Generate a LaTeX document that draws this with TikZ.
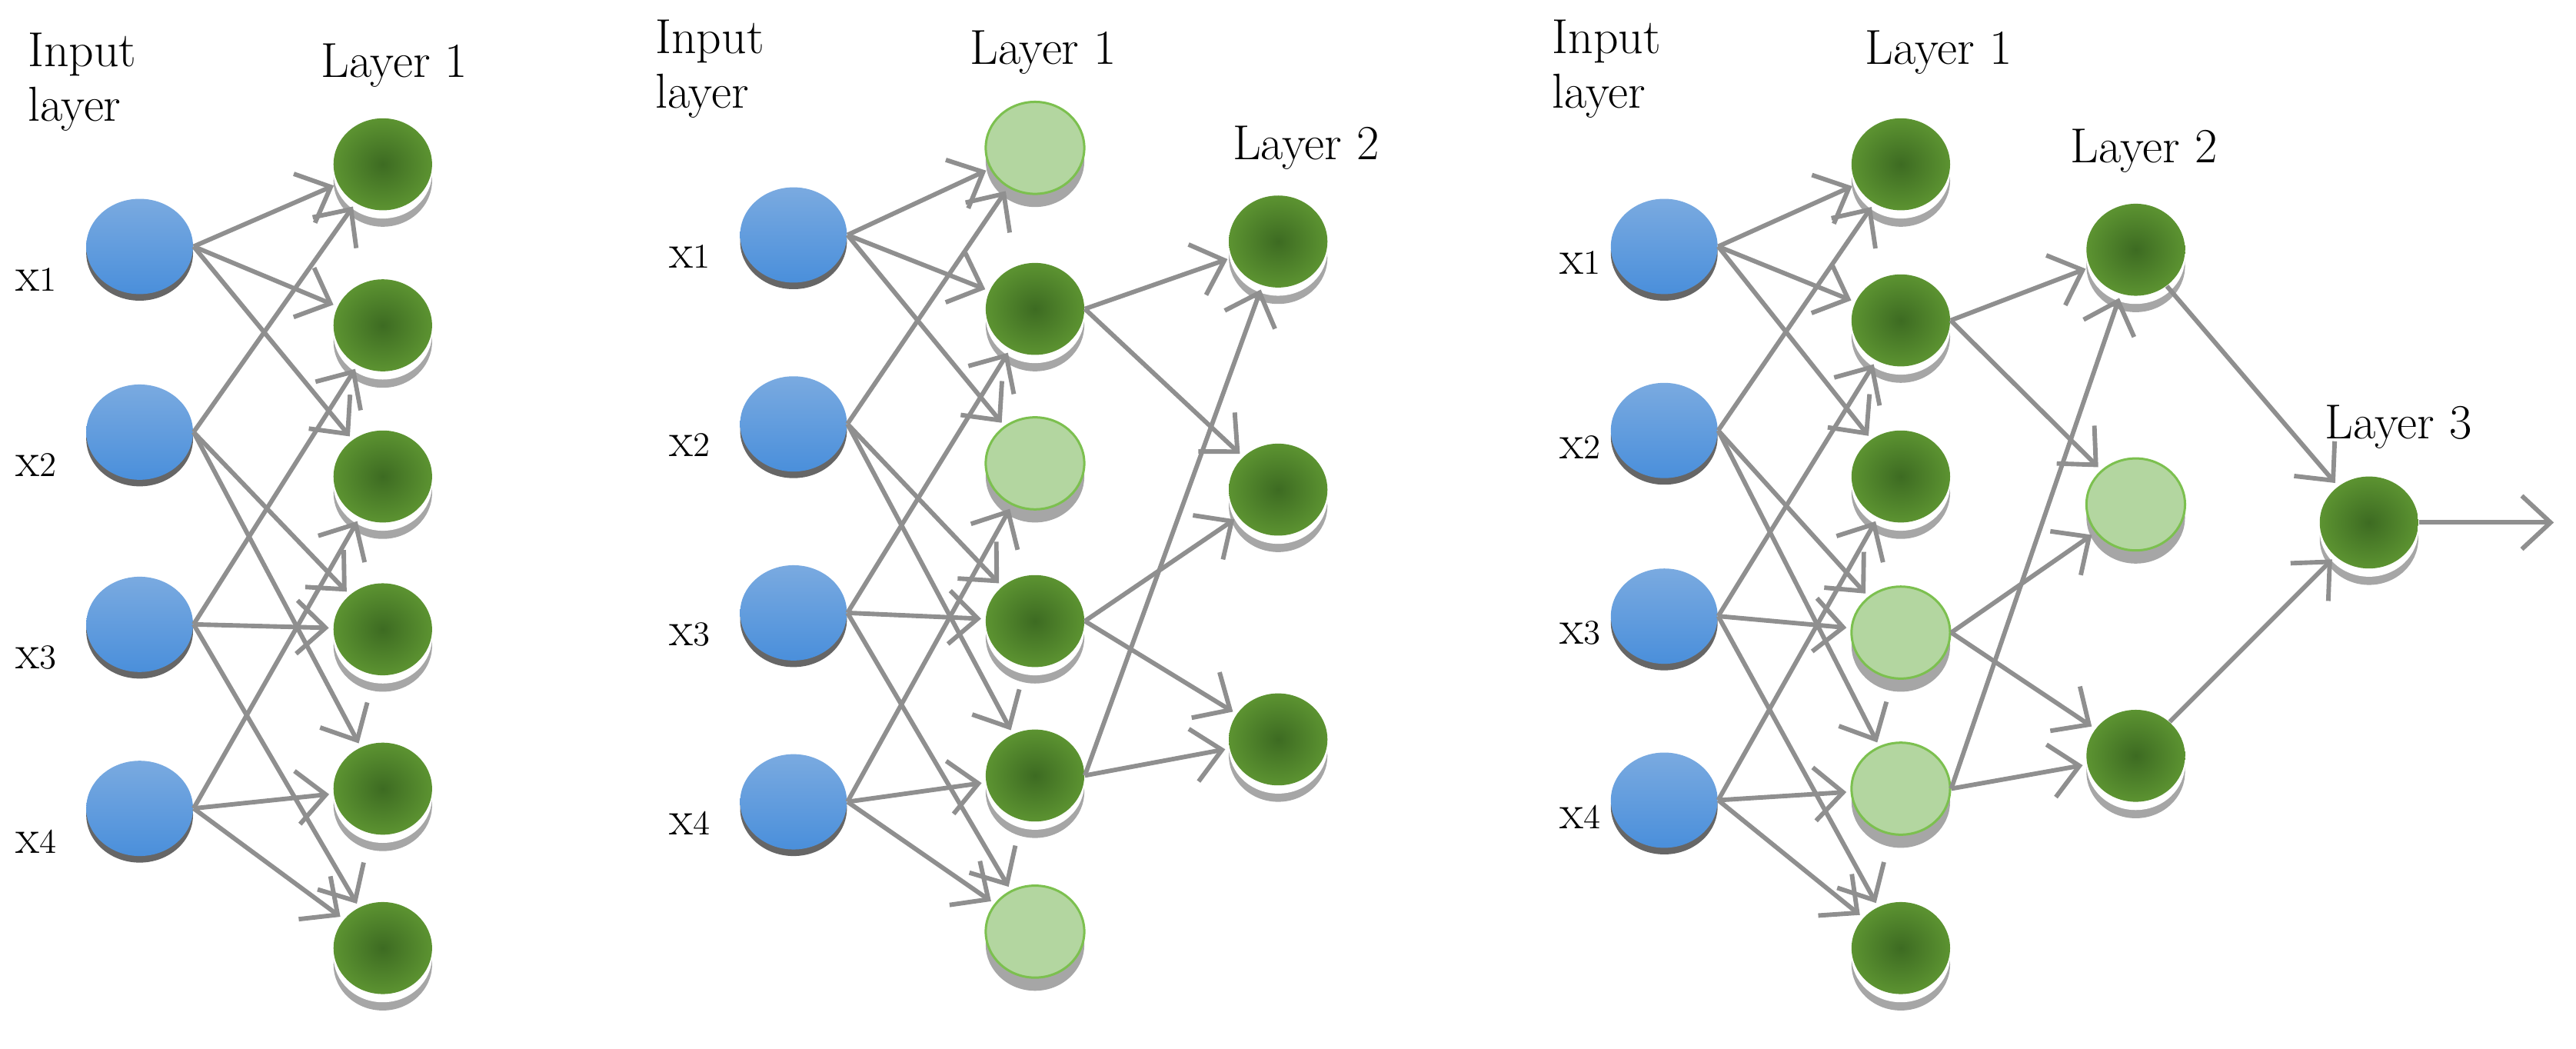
\documentclass[tikz,border=0pt]{standalone}
\usetikzlibrary{arrows.meta,shapes.geometric}
\definecolor{linkgray}{HTML}{8F8F8F}
\definecolor{bluetop}{HTML}{7AAAE0}
\definecolor{bluebot}{HTML}{4A8FDB}
\definecolor{greenin}{HTML}{3D6B22}
\definecolor{greenout}{HTML}{5C9331}
\definecolor{lightfill}{HTML}{B3D6A0}
\definecolor{lightrim}{HTML}{7CC04F}
\tikzset{
	inp/.style={ellipse,minimum width=13mm,minimum height=11.6mm,top color=bluetop,bottom color=bluebot,
		preaction={fill=black!60,transform canvas={yshift=-0.8mm}}},
	hid/.style={ellipse,minimum width=12mm,minimum height=11.2mm,shading=radial,inner color=greenin,outer color=greenout,
		preaction={fill=black!35,transform canvas={yshift=-2mm}},
		preaction={fill=white,transform canvas={yshift=-1mm}}},
	off/.style={ellipse,minimum width=12mm,minimum height=11.2mm,fill=lightfill,draw=lightrim,thick,
		preaction={fill=black!35,transform canvas={yshift=-1.6mm}}},
	link/.style={draw=linkgray,line width=0.55mm,-{Straight Barb[length=3.5mm,width=6.5mm]},shorten >=0.5mm},
	lab/.style={font=\fontsize{17}{19}\selectfont,inner sep=0pt},
}
\newcommand{\xlab}[1]{x{\fontsize{12}{14}\selectfont #1}}
\begin{document}
\begin{tikzpicture}[x=0.02cm,y=-0.02cm]
	\useasboundingbox (0,0) rectangle (1568,638);
	% panel a
	\node [lab,align=left] at (50,50) {Input\\layer};
	\node [lab] at (240,40) {Layer 1};
	\foreach \i/\y in {1/150,2/263,3/380,4/492} {
		\node [inp] (ai\i) at (85,\y) {};
		\node [lab] at (22,\y+20) {\xlab{\i}};
	}
	\foreach \i/\y in {1/100,2/198,3/290,4/383,5/480,6/577} \node [hid] (ah\i) at (233,\y) {};
	\foreach \s/\t in {1/1,1/2,1/3,2/1,2/4,2/5,3/2,3/4,3/6,4/3,4/5,4/6} \path [link] (ai\s.east) -- (ah\t);

	% panel b
	\node [lab,align=left] at (432,42) {Input\\layer};
	\node [lab] at (635,32) {Layer 1};
	\node [lab] at (795,90) {Layer 2};
	\foreach \i/\y in {1/143,2/258,3/373,4/488} {
		\node [inp] (bi\i) at (483,\y) {};
		\node [lab] at (420,\y+13) {\xlab{\i}};
	}
	\foreach \i/\y/\s in {1/90/off,2/188/hid,3/282/off,4/378/hid,5/472/hid,6/567/off} \node [\s] (bh\i) at (630,\y) {};
	\foreach \i/\y in {1/147,2/298,3/450} \node [hid] (bm\i) at (778,\y) {};
	\foreach \s/\t in {1/1,1/2,1/3,2/1,2/4,2/5,3/2,3/4,3/6,4/3,4/5,4/6} \path [link] (bi\s.east) -- (bh\t);
	\foreach \s/\t in {2/1,2/2,4/2,4/3,5/1,5/3} \path [link] (bh\s.east) -- (bm\t);

	% panel c
	\node [lab,align=left] at (978,42) {Input\\layer};
	\node [lab] at (1180,32) {Layer 1};
	\node [lab] at (1305,92) {Layer 2};
	\node [lab] at (1460,260) {Layer 3};
	\foreach \i/\y in {1/150,2/262,3/375,4/487} {
		\node [inp] (ci\i) at (1013,\y) {};
		\node [lab] at (962,\y+10) {\xlab{\i}};
	}
	\foreach \i/\y/\s in {1/100/hid,2/195/hid,3/290/hid,4/385/off,5/480/off,6/577/hid} \node [\s] (ch\i) at (1157,\y) {};
	\foreach \i/\y/\s in {1/152/hid,2/307/off,3/460/hid} \node [\s] (cm\i) at (1300,\y) {};
	\node [hid] (co) at (1442,318) {};
	\coordinate (cout) at (1557,318);
	\foreach \s/\t in {1/1,1/2,1/3,2/1,2/4,2/5,3/2,3/4,3/6,4/3,4/5,4/6} \path [link] (ci\s.east) -- (ch\t);
	\foreach \s/\t in {2/1,2/2,4/2,4/3,5/1,5/3} \path [link] (ch\s.east) -- (cm\t);
	\foreach \s in {1,3} \path [link] (cm\s) -- (co);
	\path [link] (co.east) -- (cout);
\end{tikzpicture}
\end{document}
